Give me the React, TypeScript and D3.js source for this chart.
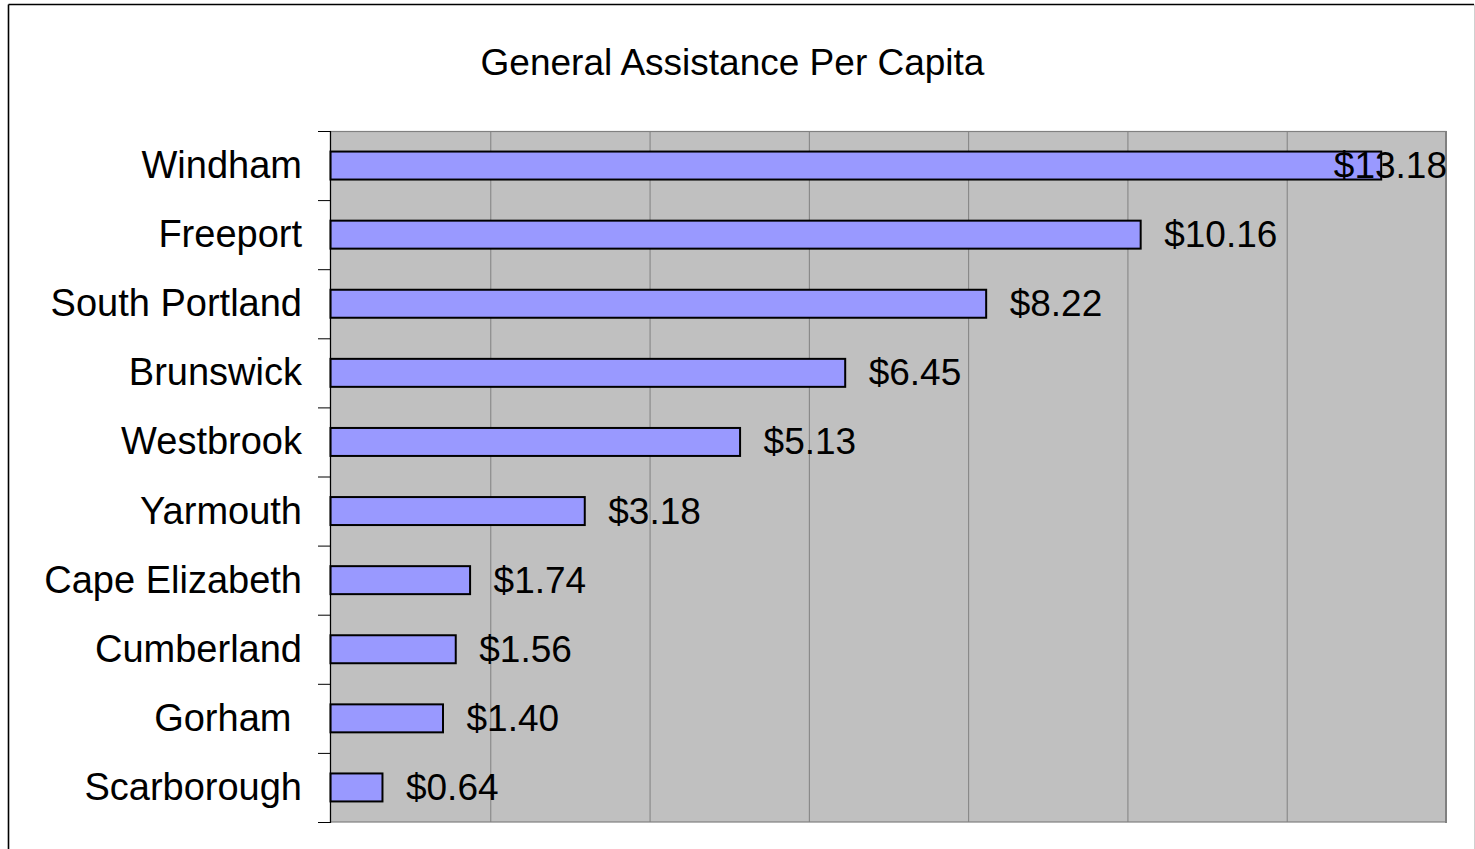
import React from "react";
import * as d3 from "d3";

const categories = ["Windham", "Freeport", "South Portland", "Brunswick", "Westbrook", "Yarmouth", "Cape Elizabeth", "Cumberland", "Gorham ", "Scarborough"];
const values = [13.18, 10.16, 8.22, 6.45, 5.13, 3.18, 1.74, 1.56, 1.4, 0.64];
const xTicks = [0, 2, 4, 6, 8, 10, 12, 14];
const title = "General Assistance Per Capita";

const W = 1475, H = 849;
const plot = { left: 331, right: 1446, top: 131, bottom: 822 };
const FONT = "Arial, 'Liberation Sans', sans-serif";
const FS = 37;
const CAT_FS = 38;

function approxWidth(s: string) {
  const w: Record<string, number> = { "$": 0.556, ".": 0.278 };
  let t = 0;
  for (const c of s) t += w[c] ?? 0.556;
  return t * FS;
}

export default function App() {
  const x = d3.scaleLinear().domain([0, 14]).range([plot.left, plot.right]);
  const y = d3.scaleBand<string>().domain(categories).range([plot.top, plot.bottom]).paddingInner(0.595).paddingOuter(0.2975);
  const band = d3.scaleBand<string>().domain(categories).range([plot.top, plot.bottom]);
  const bounds = d3.range(categories.length + 1).map(i => plot.top + i * band.step());
  const fmt = (v: number) => "$" + d3.format(".2f")(v);

  return (
    <svg width={W} height={H} style={{ position: "fixed", left: 0, top: 0, background: "#fff" }}>
      <rect x={0} y={0} width={W} height={H} fill="#fff" />
      <line x1={8.5} y1={4.5} x2={1474} y2={4.5} stroke="#000" strokeWidth={1.6} />
      <line x1={8.5} y1={4.5} x2={8.5} y2={H} stroke="#000" strokeWidth={1.6} />
      <line x1={1474.5} y1={4.5} x2={1474.5} y2={H} stroke="#d0d0d0" strokeWidth={1} />
      <text x={732.5} y={75} textAnchor="middle" fontFamily={FONT} fontSize={37} fill="#000">{title}</text>
      <rect x={plot.left} y={plot.top} width={plot.right - plot.left} height={plot.bottom - plot.top} fill="#c0c0c0" />
      {xTicks.slice(1, -1).map(t => (
        <line key={t} x1={x(t) + 0.5} x2={x(t) + 0.5} y1={plot.top} y2={plot.bottom} stroke="#808080" strokeWidth={1} />
      ))}
      <rect x={plot.left - 0.5} y={plot.top + 0.5} width={plot.right - plot.left + 0.5} height={plot.bottom - plot.top - 0.5} fill="none" stroke="#808080" strokeWidth={1.2} />
      <line x1={plot.right} x2={plot.right} y1={plot.top} y2={plot.bottom + 1} stroke="#808080" strokeWidth={2} />
      {categories.map((c, i) => (
        <rect key={c} x={x(0) - 0.5} y={y(c)!} width={x(values[i]) - x(0) + 1} height={y.bandwidth()} fill="#9999ff" stroke="#000" strokeWidth={2} />
      ))}
      <line x1={330.5} x2={330.5} y1={plot.top} y2={plot.bottom + 1} stroke="#000" strokeWidth={1.2} />
      {bounds.map((b, i) => (
        <line key={i} x1={318} x2={331} y1={b + 0.5} y2={b + 0.5} stroke="#000" strokeWidth={1} />
      ))}
      {categories.map(c => (
        <text key={c} x={302} y={y(c)! + y.bandwidth() / 2 + 12.5} textAnchor="end" fontFamily={FONT} fontSize={CAT_FS} fill="#000" style={{ whiteSpace: "pre" }}>{c}</text>
      ))}
      {categories.map((c, i) => {
        const s = fmt(values[i]);
        const wdt = approxWidth(s);
        let lx = x(values[i]) + 24;
        if (lx + wdt > plot.right + 1) lx = plot.right + 1 - wdt;
        return (
          <text key={c} x={lx} y={y(c)! + y.bandwidth() / 2 + 12.5} fontFamily={FONT} fontSize={FS} fill="#000">{s}</text>
        );
      })}
    </svg>
  );
}
